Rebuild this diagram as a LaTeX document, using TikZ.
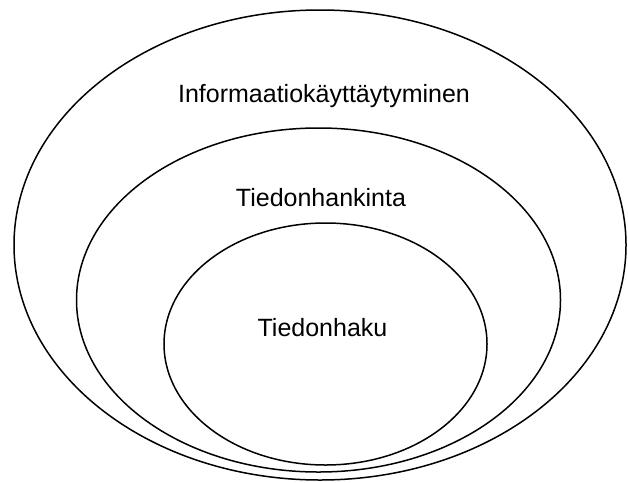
\documentclass[tikz,border=0pt]{standalone}
\usepackage{fontspec}
\setmainfont{Liberation Sans}
\tikzset {
    x=1pt,
    y=-1pt,
    ring/.style={line width=1.5pt},
    levelname/.style={anchor=base, inner sep=0pt, font=\fontsize{25}{30}\selectfont}
}

\begin{document}
\begin{tikzpicture}
                    \useasboundingbox (0,0) rectangle (628,482);

                    \coordinate (c1) at (320,245);
                    \coordinate (c2) at (318.5,300);
                    \coordinate (c3) at (325.5,344);

                    \draw[ring] (c1) ellipse [x radius=306pt, y radius=235pt];
                    \draw[ring] (c2) ellipse [x radius=242pt, y radius=172pt];
                    \draw[ring] (c3) ellipse [x radius=161.5pt, y radius=121pt];

                    \node[levelname] (kaytt) at (324,102) {Informaatiokäyttäytyminen};
                    \node[levelname] (hankinta) at (321,206) {Tiedonhankinta};
                    \node[levelname] (haku) at (322.5,336) {Tiedonhaku};
                    \end{tikzpicture}
\end{document}
